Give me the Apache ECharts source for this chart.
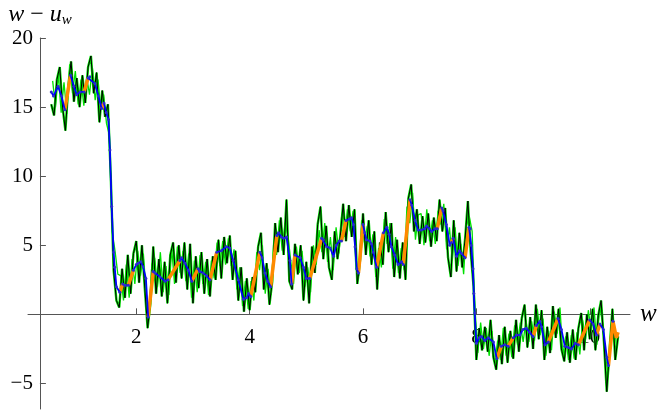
<!DOCTYPE html>
<html>
<head>
<meta charset="utf-8">
<script src="https://cdn.jsdelivr.net/npm/echarts@6/dist/echarts.min.js"></script>
<style>
  html, body { margin: 0; padding: 0; background: #fff; }
  #chart { width: 660px; height: 412px; }
</style>
</head>
<body>
<div id="chart"></div>
<script>
// Fine noisy samples of w - u_w (black trace), every 0.05 in w from w = 0.5
const noiseStart = 0.5;
const noiseStep = 0.05;
const noiseValues = [
  15.2, 14.4, 17.0, 17.9, 15.0, 13.3, 16.5, 18.3, 15.4, 17.1,
  15.0, 17.3, 15.3, 17.9, 18.7, 16.0, 17.5, 13.9, 16.2, 14.3,
  15.2, 10.0, 3.2, 1.0, 0.5, 3.3, 1.2, 4.3, 1.5, 4.4,
  5.3, 2.3, 5.0, 1.9, -1.0, 0.8, 4.9, 1.5, 4.0, 1.3,
  3.8, 0.8, 4.3, 5.2, 2.3, 5.0, 2.6, 5.2, 1.8, 5.1,
  0.8, 4.2, 1.9, 4.5, 1.5, 4.0, 1.3, 4.2, 2.5, 5.4,
  2.6, 5.6, 3.7, 5.7, 2.5, 4.6, 1.0, 3.4, 0.2, 2.6,
  0.3, 2.7, 1.6, 4.9, 5.9, 1.8, 3.7, 0.7, 2.4, 6.6,
  4.5, 7.0, 4.3, 8.3, 2.4, 1.8, 5.1, 2.9, 5.0, 1.0,
  3.8, 0.8, 4.9, 3.0, 6.5, 7.8, 4.0, 6.4, 3.4, 2.5,
  6.0, 4.0, 5.7, 8.0, 5.3, 7.9, 5.6, 7.6, 2.2, 4.0,
  7.3, 4.3, 6.8, 3.6, 6.0, 1.8, 5.2, 3.6, 7.4, 4.5,
  6.6, 2.7, 5.4, 2.6, 5.2, 2.5, 8.4, 9.4, 6.0, 7.6,
  5.1, 7.1, 5.2, 7.3, 4.9, 7.0, 5.3, 8.3, 6.0, 7.7,
  4.1, 2.7, 6.8, 3.1, 5.9, 3.4, 5.4, 8.2, 4.5, 2.0,
  -3.3, -1.0, -2.6, -0.9, -2.7, -0.4, -3.1, -4.0, -1.5, -3.6,
  -0.9, -3.5, -1.2, -3.2, -0.4, -2.7, -0.3, 0.7, -2.4, -0.2,
  -2.5, 0.7, -1.8, 0.3, -3.3, -0.9, -2.8, 0.6, -1.7, 0.4,
  -2.5, -3.4, -1.3, -3.5, -1.1, -3.3, -1.0, 0.1, -2.6, 0.0,
  -1.8, 0.4, -2.6, -0.1, 1.0, -2.0, -5.6, -2.5, 0.4, -3.3, -1.6
];

// Second noisy trace (green), sampled half a step later, every 0.05 from w = 0.525
const greenStart = 0.525;
const greenStep = 0.05;
const greenValues = [
  16.9, 15.0, 17.4, 14.6, 16.8, 14.5, 18.1, 16.0, 17.6, 15.2,
  17.0, 15.1, 17.2, 15.9, 17.9, 15.5, 17.0, 14.8, 15.9, 13.8,
  13.0, 6.0, 4.6, 2.9, 2.8, 1.0, 3.6, 1.2, 4.0, 2.2,
  4.6, 2.8, 4.4, 1.5, 0.2, 3.6, 4.1, 2.0, 4.5, 1.6,
  3.5, 1.4, 4.8, 2.2, 4.9, 3.0, 4.6, 2.4, 4.4, 1.2,
  3.9, 1.6, 4.3, 2.2, 3.8, 1.4, 3.9, 2.6, 5.2, 3.5,
  5.3, 3.6, 5.5, 3.5, 4.7, 1.8, 3.4, 0.6, 2.4, 0.4,
  2.4, 1.0, 4.5, 3.2, 5.0, 1.5, 3.3, 1.4, 5.2, 4.3,
  6.8, 4.6, 6.6, 5.7, 3.9, 2.2, 4.9, 3.0, 4.6, 2.0,
  3.4, 1.6, 5.0, 3.6, 6.1, 4.5, 6.6, 3.8, 5.6, 3.2,
  6.3, 4.4, 7.2, 5.6, 7.6, 6.0, 7.5, 3.3, 2.8, 6.8,
  5.2, 6.4, 4.2, 5.8, 2.7, 4.8, 3.4, 6.9, 5.1, 6.6,
  3.3, 5.6, 3.0, 4.8, 3.2, 7.8, 6.6, 8.8, 5.4, 7.2,
  7.3, 5.0, 7.6, 5.3, 6.8, 5.1, 7.5, 6.5, 8.0, 4.7,
  6.3, 3.9, 6.3, 3.5, 5.1, 2.9, 6.4, 7.1, 6.0, 0.5,
  -2.8, -0.6, -2.5, -1.0, -3.0, -1.2, -3.6, -1.9, -3.3, -1.0,
  -3.0, -1.4, -3.1, -0.8, -2.2, -0.6, -2.0, -0.4, -2.0, -0.5,
  -1.9, 0.4, -1.5, -0.3, -3.0, -1.2, -2.6, 0.2, -1.4, 0.5,
  -3.0, -1.6, -3.3, -1.5, -3.2, -1.3, -2.9, -0.4, -1.8, 0.3,
  -1.2, 0.5, -2.2, 0.6, -0.6, -3.0, -4.4, -1.0, -0.5, -2.4
];

// Smoothed curve: each run is a stretch drawn in blue; the jumps between runs are orange
const trendRuns = [
  [[0.50, 16.1], [0.54, 15.8], [0.62, 16.5], [0.68, 15.8], [0.74, 14.8]],
  [[0.84, 17.3], [0.90, 16.5], [0.95, 15.9], [1.01, 16.1], [1.08, 16.1]],
  [[1.15, 17.1], [1.18, 17.2], [1.27, 16.7], [1.33, 15.8], [1.39, 14.9]],
  [[1.43, 15.3], [1.47, 14.6], [1.51, 14.1], [1.535, 11.9], [1.566, 7.8], [1.60, 4.5], [1.62, 3.4], [1.65, 2.0], [1.71, 1.6]],
  [[1.76, 2.2], [1.80, 2.1], [1.86, 2.1]],
  [[1.95, 3.2], [2.00, 3.6], [2.03, 3.7], [2.08, 3.8], [2.12, 3.45], [2.17, 2.6], [2.21, -0.2]],
  [[2.30, 3.1], [2.33, 3.0], [2.42, 2.7], [2.51, 2.4], [2.56, 2.5]],
  [[2.77, 3.9], [2.80, 4.1], [2.86, 3.7], [2.92, 3.2], [2.98, 2.4]],
  [[3.09, 3.3], [3.12, 3.1], [3.18, 3.0], [3.24, 2.8], [3.30, 2.5]],
  [[3.42, 4.5], [3.50, 4.6], [3.59, 4.9], [3.65, 4.8], [3.71, 3.9], [3.80, 2.5], [3.89, 1.1], [3.95, 1.2], [3.98, 1.5], [4.02, 1.3]],
  [[4.18, 4.5], [4.22, 4.1], [4.27, 3.0], [4.32, 2.4], [4.37, 2.0]],
  [[4.48, 5.7], [4.51, 5.9], [4.56, 5.6], [4.60, 5.5], [4.65, 5.6], [4.71, 3.9], [4.74, 2.2]],
  [[4.80, 4.3], [4.89, 4.1], [4.95, 3.4], [5.00, 2.6], [5.06, 2.6]],
  [[5.27, 5.5], [5.30, 5.4], [5.36, 4.9], [5.42, 4.8], [5.48, 4.2], [5.53, 5.0], [5.58, 5.3], [5.62, 5.3]],
  [[5.70, 6.8], [5.76, 6.9], [5.80, 7.0], [5.83, 6.5], [5.86, 4.9], [5.89, 3.3], [5.92, 3.0]],
  [[6.00, 6.5], [6.03, 5.9], [6.06, 5.4], [6.12, 5.3], [6.15, 5.1], [6.18, 4.5], [6.24, 3.4]],
  [[6.36, 5.9], [6.42, 6.3], [6.46, 5.8], [6.50, 4.9], [6.56, 4.3], [6.62, 3.6], [6.68, 3.8], [6.71, 3.6]],
  [[6.83, 8.3], [6.86, 7.9], [6.92, 6.8], [6.97, 6.1], [7.03, 6.1], [7.09, 6.2], [7.12, 6.4], [7.17, 6.2], [7.21, 6.0], [7.27, 6.2], [7.31, 6.2]],
  [[7.39, 7.7], [7.41, 7.5], [7.47, 6.5], [7.53, 5.0], [7.56, 5.2]],
  [[7.59, 5.5], [7.65, 4.2], [7.70, 4.6], [7.74, 4.4], [7.80, 4.1]],
  [[7.87, 6.3], [7.89, 6.2], [7.91, 5.0], [7.94, 3.3], [7.955, 1.5], [7.97, 0.1], [8.00, -2.1], [8.05, -1.7], [8.09, -1.6], [8.15, -1.9], [8.21, -1.7], [8.30, -2.0], [8.36, -3.2]],
  [[8.44, -2.3], [8.50, -2.2], [8.56, -2.3]],
  [[8.65, -1.7], [8.71, -1.5], [8.77, -1.5], [8.82, -1.1], [8.88, -1.0], [8.94, -1.3], [9.00, -1.6]],
  [[9.06, -0.8], [9.12, -0.5], [9.15, -0.9], [9.21, -2.2], [9.27, -2.0]],
  [[9.44, -0.3], [9.50, -1.1], [9.56, -2.3], [9.62, -2.4], [9.68, -2.5], [9.74, -2.1], [9.80, -2.2]],
  [[10.00, -0.4], [10.06, -0.7], [10.12, -1.5]],
  [[10.18, -0.7], [10.24, -1.1], [10.30, -3.1], [10.33, -3.7]],
  [[10.41, -0.5]]
];
// Final orange wiggle after the last blue point
const orangeTail = [[10.47, -1.7], [10.50, -1.3]];

// Tick positions and labels
const xTicks = [2, 4, 6, 8, 10];
const yTicks = [-5, 5, 10, 15, 20];

// Axis ranges
const xMin = 0.09, xMax = 10.71;
const yMin = -6.85, yMax = 20;

const GAP = ['-', '-'];

const toPoints = (start, step, values) =>
  values.map((v, i) => [+(start + i * step).toFixed(3), v]);
const noiseData = toPoints(noiseStart, noiseStep, noiseValues);
const greenData = toPoints(greenStart, greenStep, greenValues);

const blueData = [];
trendRuns.forEach((run, k) => {
  if (k > 0) blueData.push(GAP);
  run.forEach(p => blueData.push(p));
});

const orangeData = [];
for (let k = 0; k + 1 < trendRuns.length; k++) {
  const a = trendRuns[k][trendRuns[k].length - 1];
  const b = trendRuns[k + 1][0];
  orangeData.push(a, b, GAP);
}
const lastRun = trendRuns[trendRuns.length - 1];
orangeData.push(lastRun[lastRun.length - 1], ...orangeTail);

const serif = '"Liberation Serif", "DejaVu Serif", serif';
const axisColor = '#555';

// Plot box
const gridLeft = 28, gridTop = 38, gridWidth = 602, gridHeight = 371;
// The horizontal axis crosses at value 0: lift it from the bottom of the box accordingly
const xAxisOffset = -((0 - yMin) / (yMax - yMin)) * gridHeight;
// The vertical axis stands at w = 0.3
const yAxisOffset = -((0.3 - xMin) / (xMax - xMin)) * gridWidth;

const tickRich = { t: { color: '#000', fontFamily: serif, fontSize: 21 } };
const fmtTick = v => '{t|' + (v < 0 ? '\u2212' + Math.abs(v) : String(v)) + '}';

const chart = echarts.init(document.getElementById('chart'), null, { renderer: 'canvas' });
chart.setOption({
  animation: false,
  backgroundColor: '#fff',
  textStyle: { fontFamily: serif, color: '#000' },
  grid: {
    left: gridLeft, top: gridTop, width: gridWidth, height: gridHeight,
    containLabel: false, outerBoundsMode: 'none'
  },
  xAxis: {
    type: 'value',
    min: xMin,
    max: xMax,
    position: 'bottom',
    offset: xAxisOffset,
    axisLine: { onZero: false, lineStyle: { color: axisColor, width: 1 } },
    axisTick: { show: true, inside: true, length: 6, customValues: xTicks, lineStyle: { color: axisColor } },
    axisLabel: { customValues: xTicks, margin: 13, color: '#000', fontFamily: serif, fontSize: 21, formatter: fmtTick, rich: tickRich },
    splitLine: { show: false },
    name: 'w',
    nameLocation: 'end',
    nameGap: 10,
    nameTextStyle: { fontFamily: serif, fontStyle: 'italic', fontSize: 25, color: '#000', align: 'left', verticalAlign: 'middle' }
  },
  yAxis: {
    type: 'value',
    min: yMin,
    max: yMax,
    position: 'left',
    offset: yAxisOffset,
    axisLine: { onZero: false, lineStyle: { color: axisColor, width: 1 } },
    axisTick: { show: true, inside: true, length: 6, customValues: yTicks, lineStyle: { color: axisColor } },
    axisLabel: { customValues: yTicks, margin: 7, color: '#000', fontFamily: serif, fontSize: 21, formatter: fmtTick, rich: tickRich },
    splitLine: { show: false },
    name: '{it|w}{n| \u2212 }{it|u}{sub|w}',
    nameLocation: 'end',
    nameGap: 1,
    nameTextStyle: {
      align: 'center',
      verticalAlign: 'bottom',
      rich: {
        it: { fontFamily: serif, fontStyle: 'italic', fontSize: 24, lineHeight: 26, color: '#000' },
        n: { fontFamily: serif, fontSize: 24, lineHeight: 26, color: '#000' },
        sub: { fontFamily: serif, fontStyle: 'italic', fontSize: 15, lineHeight: 15, verticalAlign: 'bottom', color: '#000' }
      }
    }
  },
  series: [
    {
      name: 'green trace',
      type: 'line',
      data: greenData,
      showSymbol: false,
      lineStyle: { color: '#00e000', width: 1.3 },
      z: 1
    },
    {
      name: 'noise halo',
      type: 'line',
      data: noiseData,
      showSymbol: false,
      lineStyle: { color: '#00e000', width: 2.4 },
      z: 2
    },
    {
      name: 'noise',
      type: 'line',
      data: noiseData,
      showSymbol: false,
      lineStyle: { color: '#000', width: 1 },
      z: 3
    },
    {
      name: 'jumps',
      type: 'line',
      data: orangeData,
      showSymbol: false,
      connectNulls: false,
      lineStyle: { color: '#ff8a00', width: 3.5 },
      z: 4
    },
    {
      name: 'trend',
      type: 'line',
      data: blueData,
      connectNulls: false,
      symbol: 'circle',
      symbolSize: 3,
      showSymbol: true,
      itemStyle: { color: '#2a2ad0' },
      lineStyle: { color: '#0000ff', width: 1.8 },
      z: 5
    }
  ]
});
</script>
</body>
</html>
